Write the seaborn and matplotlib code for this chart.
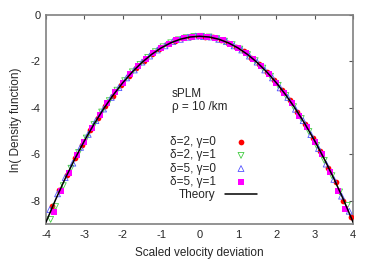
import matplotlib
matplotlib.use("Agg")
import matplotlib.pyplot as plt
import seaborn as sns

# scaled velocity deviation / ln(density) samples
x_d2_g0 = [-3.85, -3.65, -3.45, -3.25, -3.05, -2.85, -2.65, -2.45, -2.25, -2.05,
           -1.85, -1.65, -1.45, -1.25, -1.05, -0.85, -0.65, -0.45, -0.25, -0.05,
           0.15, 0.35, 0.55, 0.75, 0.95, 1.15, 1.35, 1.55, 1.75, 1.95,
           2.15, 2.35, 2.55, 2.75, 2.95, 3.15, 3.35, 3.55, 3.75, 3.95]
y_d2_g0 = [-8.24, -7.52, -6.90, -6.16, -5.60, -4.95, -4.45, -3.90, -3.47, -3.00,
           -2.64, -2.27, -1.98, -1.69, -1.48, -1.27, -1.14, -1.01, -0.95, -0.91,
           -0.94, -0.97, -1.08, -1.19, -1.38, -1.57, -1.84, -2.11, -2.46, -2.80,
           -3.25, -3.66, -4.19, -4.68, -5.30, -5.85, -6.58, -7.18, -7.99, -8.68]

x_d2_g1 = [-3.88, -3.75, -3.55, -3.35, -3.15, -2.95, -2.75, -2.55, -2.35, -2.15,
           -1.95, -1.75, -1.55, -1.35, -1.15, -0.95, -0.75, -0.55, -0.35, -0.15,
           0.05, 0.25, 0.45, 0.65, 0.85, 1.05, 1.25, 1.45, 1.65, 1.85,
           2.05, 2.25, 2.45, 2.65, 2.85, 3.05, 3.25, 3.45, 3.65, 3.85]
y_d2_g1 = [-8.80, -8.25, -7.35, -6.60, -5.92, -5.30, -4.72, -4.18, -3.69, -3.24,
           -2.83, -2.45, -2.13, -1.83, -1.58, -1.37, -1.20, -1.07, -0.98, -0.93,
           -0.92, -0.95, -1.02, -1.13, -1.28, -1.47, -1.71, -1.97, -2.29, -2.64,
           -3.03, -3.47, -3.95, -4.46, -5.02, -5.62, -6.26, -6.92, -7.62, -8.20]

x_d5_g0 = [-3.9, -3.7, -3.5, -3.3, -3.1, -2.9, -2.7, -2.5, -2.3, -2.1,
           -1.9, -1.7, -1.5, -1.3, -1.1, -0.9, -0.7, -0.5, -0.3, -0.1,
           0.1, 0.3, 0.5, 0.7, 0.9, 1.1, 1.3, 1.5, 1.7, 1.9,
           2.1, 2.3, 2.5, 2.7, 2.9, 3.1, 3.3, 3.5, 3.7, 3.9]
y_d5_g0 = [-8.38, -7.70, -7.00, -6.38, -5.70, -5.14, -4.55, -4.05, -3.55, -3.13,
           -2.71, -2.37, -2.03, -1.77, -1.51, -1.33, -1.15, -1.05, -0.96, -0.91,
           -0.93, -0.95, -1.05, -1.15, -1.33, -1.51, -1.77, -2.03, -2.37, -2.71,
           -3.14, -3.55, -4.06, -4.55, -5.15, -5.75, -6.42, -7.08, -7.80, -8.45]

x_d5_g1 = [-3.8, -3.6, -3.4, -3.2, -3.0, -2.8, -2.6, -2.4, -2.2, -2.0,
           -1.8, -1.6, -1.4, -1.2, -1.0, -0.8, -0.6, -0.4, -0.2, 0.0,
           0.2, 0.4, 0.6, 0.8, 1.0, 1.2, 1.4, 1.6, 1.8, 2.0,
           2.2, 2.4, 2.6, 2.8, 3.0, 3.2, 3.4, 3.6, 3.8]
y_d5_g1 = [-8.50, -7.60, -6.80, -6.05, -5.45, -4.86, -4.31, -3.81, -3.33, -2.93,
           -2.53, -2.21, -1.89, -1.65, -1.41, -1.25, -1.09, -1.01, -0.93, -0.91,
           -0.93, -1.01, -1.09, -1.25, -1.41, -1.65, -1.91, -2.19, -2.55, -2.91,
           -3.35, -3.79, -4.33, -4.82, -5.48, -6.00, -6.75, -7.60, -8.35]

x_theory = [-4.0, -3.75, -3.5, -3.25, -3.0, -2.75, -2.5, -2.25, -2.0, -1.75, -1.5,
            -1.25, -1.0, -0.75, -0.5, -0.25, 0.0, 0.25, 0.5, 0.75, 1.0, 1.25,
            1.5, 1.75, 2.0, 2.25, 2.5, 2.75, 3.0, 3.25, 3.5, 3.75, 4.0]
y_theory = [-8.919, -7.950, -7.044, -6.200, -5.419, -4.700, -4.044, -3.450, -2.919,
            -2.450, -2.044, -1.700, -1.419, -1.200, -1.044, -0.950, -0.919, -0.950,
            -1.044, -1.200, -1.419, -1.700, -2.044, -2.450, -2.919, -3.450, -4.044,
            -4.700, -5.419, -6.200, -7.044, -7.950, -8.919]

sns.set_style("white")
plt.rcParams['font.family'] = ['Liberation Sans', 'DejaVu Sans']
plt.rcParams['axes.unicode_minus'] = False

fig = plt.figure(figsize=(3.74, 2.62), dpi=100)
ax = fig.add_axes([0.123, 0.145, 0.821, 0.798])

sns.scatterplot(x=x_d2_g0, y=y_d2_g0, marker='o', s=17, color='#ff0000',
                linewidth=0, label='δ=2, γ=0', ax=ax, zorder=3)
sns.scatterplot(x=x_d2_g1, y=y_d2_g1, marker='v', s=18, facecolors='none',
                edgecolor='#44cc44', linewidth=0.6, label='δ=2, γ=1', ax=ax, zorder=3)
sns.scatterplot(x=x_d5_g0, y=y_d5_g0, marker='^', s=18, facecolors='none',
                edgecolor='#5555ff', linewidth=0.6, label='δ=5, γ=0', ax=ax, zorder=3)
sns.scatterplot(x=x_d5_g1, y=y_d5_g1, marker='s', s=16, color='#ff00ff',
                linewidth=0, label='δ=5, γ=1', ax=ax, zorder=3)
sns.lineplot(x=x_theory, y=y_theory, color='black', linewidth=1.1,
             label='Theory', ax=ax, zorder=4)

ax.set_xlim(-4, 4)
ax.set_ylim(-9, 0)
ax.set_xticks(range(-4, 5))
ax.set_yticks([0, -2, -4, -6, -8])
ax.tick_params(direction='in', length=3, width=0.8, color='#555555',
               top=True, right=True, labelsize=8, pad=4)
for sp in ax.spines.values():
    sp.set_color('#808080')
    sp.set_linewidth(1.2)

ax.set_xlabel('Scaled velocity deviation', fontsize=8.5, labelpad=5)
ax.set_ylabel('ln( Density function)', fontsize=8.5, labelpad=6)

ax.text(-0.72, -3.68, 'sPLM\nρ = 10 /km', fontsize=8.5, va='center',
        ha='left', linespacing=1.2)

ax.legend(loc='lower right', bbox_to_anchor=(0.687, 0.11), frameon=False,
          markerfirst=False, fontsize=8.5, handlelength=2.7, handletextpad=0.8,
          labelspacing=0.1, borderpad=0, borderaxespad=0, scatterpoints=1)

plt.savefig('out.png', dpi=100)
plt.close()
